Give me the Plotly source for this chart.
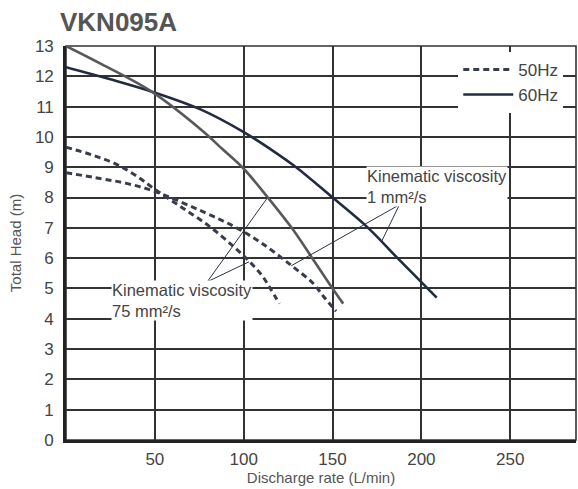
import plotly.graph_objects as go

# ---- data ----
# 60 Hz, kinematic viscosity 1 mm2/s
q60_w = [0, 25, 48, 76, 100, 115, 129.5, 150, 170, 186.6, 208.6]
h60_w = [12.3, 11.9, 11.5, 10.9, 10.16, 9.6, 9.0, 8.0, 7.0, 6.0, 4.7]
# 60 Hz, kinematic viscosity 75 mm2/s
q60_v = [0, 20, 48, 76.4, 88, 100, 113.6, 127, 138.6, 150, 156]
h60_v = [13.0, 12.4, 11.5, 10.22, 9.6, 8.95, 8.0, 7.0, 6.0, 5.0, 4.5]
# 50 Hz, kinematic viscosity 1 mm2/s
q50_w = [0, 20, 34.6, 50, 82, 96, 110, 127, 139, 145.4, 152]
h50_w = [8.82, 8.62, 8.46, 8.2, 7.4, 7.0, 6.5, 5.75, 5.17, 4.7, 4.25]
# 50 Hz, kinematic viscosity 75 mm2/s
q50_v = [0, 15, 29, 40, 50, 65, 80, 94, 103, 110, 115, 120]
h50_v = [9.66, 9.4, 9.08, 8.7, 8.27, 7.68, 7.08, 6.4, 5.9, 5.45, 5.0, 4.5]

x_ticks = [50, 100, 150, 200, 250]
y_ticks = list(range(0, 14))

title_text = "VKN095A"
x_title = "Discharge rate (L/min)"
y_title = "Total Head (m)"
note_1 = "Kinematic viscosity<br>1 mm²/s"
note_75 = "Kinematic viscosity<br>75 mm²/s"

FONT = "Liberation Sans, Arial, sans-serif"
NAVY = "#222b40"
GRAY = "#585858"
DASHC = "#383d4c"

fig = go.Figure()
fig.add_trace(go.Scatter(x=q50_w, y=h50_w, mode="lines", name="50Hz", legendgroup="50",
                         line=dict(color=DASHC, width=3, dash="6px,4px", shape="spline", smoothing=1)))
fig.add_trace(go.Scatter(x=q50_v, y=h50_v, mode="lines", name="50Hz", legendgroup="50", showlegend=False,
                         line=dict(color=DASHC, width=3, dash="6px,4px", shape="spline", smoothing=1)))
fig.add_trace(go.Scatter(x=q60_w, y=h60_w, mode="lines", name="60Hz", legendgroup="60",
                         line=dict(color=NAVY, width=2.6, shape="spline", smoothing=1)))
fig.add_trace(go.Scatter(x=q60_v, y=h60_v, mode="lines", name="60Hz", legendgroup="60", showlegend=False,
                         line=dict(color=GRAY, width=2.6, shape="spline", smoothing=1)))

# leader lines (data coordinates)
leaders = [
    ((187.6, 7.76), (126.8, 5.75)),
    ((187.6, 7.76), (177.6, 6.55)),
    ((79.5, 5.22), (113.2, 7.98)),
    ((79.5, 5.22), (103, 5.88)),
]
for (x0, y0), (x1, y1) in leaders:
    fig.add_shape(type="line", xref="x", yref="y", x0=x0, y0=y0, x1=x1, y1=y1,
                  line=dict(color="#2a3348", width=1), layer="above")

# top/right frame
fig.add_shape(type="rect", xref="paper", yref="paper", x0=0, y0=0, x1=1, y1=1,
              line=dict(color="#333333", width=1.6), layer="below")

fig.add_annotation(x=169, y=8.35, xref="x", yref="y", text=note_1, showarrow=False,
                   xanchor="left", yanchor="middle", align="left", bgcolor="white", borderpad=0,
                   font=dict(family=FONT, size=16.5, color="#444444"))
fig.add_annotation(x=25.3, y=4.59, xref="x", yref="y", text=note_75, showarrow=False,
                   xanchor="left", yanchor="middle", align="left", bgcolor="white", borderpad=0,
                   font=dict(family=FONT, size=16.5, color="#444444"))

fig.update_layout(
    width=578, height=489,
    margin=dict(l=66, r=2, t=46, b=49),
    paper_bgcolor="white", plot_bgcolor="white",
    font=dict(family=FONT, color="#444444"),
    title=dict(text="<b>" + title_text + "</b>", xref="container", yref="container",
               x=60 / 578, xanchor="left", y=1 - 22 / 489, yanchor="middle",
               font=dict(family=FONT, size=26, color="#555555")),
    legend=dict(x=0.975, xanchor="right", y=0.985, yanchor="top", bgcolor="white",
                font=dict(family=FONT, size=17, color="#444444"), itemwidth=50,
                tracegroupgap=0, borderwidth=0),
    showlegend=True,
)
fig.update_xaxes(range=[0, 287], tickvals=x_ticks, showgrid=True, gridcolor="#333333", gridwidth=1.5,
                 showline=True, linecolor="#222222", linewidth=2.6, zeroline=False, ticks="",
                 ticklabelstandoff=2, tickfont=dict(family=FONT, size=17, color="#444444"),
                 title=dict(text=x_title, font=dict(family=FONT, size=15, color="#555555"), standoff=0))
fig.update_yaxes(range=[0, 13], tickvals=y_ticks, showgrid=True, gridcolor="#333333", gridwidth=1.5,
                 showline=True, linecolor="#222222", linewidth=2.6, zeroline=False, ticks="",
                 ticklabelstandoff=6, tickfont=dict(family=FONT, size=17, color="#444444"),
                 title=dict(text=y_title, font=dict(family=FONT, size=15, color="#555555"), standoff=10))

fig.write_html("out.html", config={"displayModeBar": False},
               post_script="document.body.style.margin='0';")
